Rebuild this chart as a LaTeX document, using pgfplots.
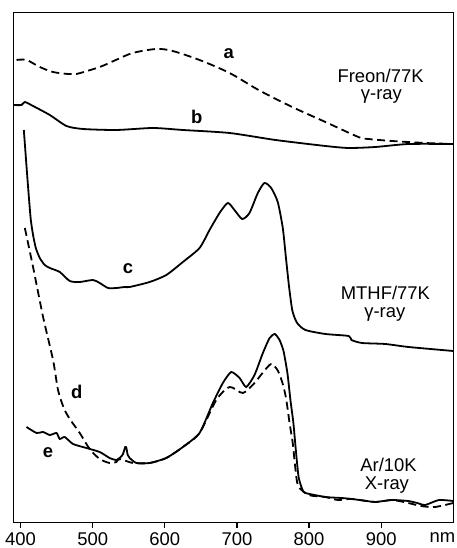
\documentclass[border=0pt]{standalone}
\usepackage{fontspec}
\setmainfont{Liberation Sans}
\usepackage{pgfplots}
\pgfplotsset{compat=1.18}
\usetikzlibrary{calc}
\newcommand{\lf}{\fontsize{18.5}{19}\selectfont}
\begin{document}
\begin{tikzpicture}
\begin{axis}[
  scale only axis, width=440bp, height=510bp,
  xmin=390, xmax=1000, ymin=0.3, ymax=510.3,
  xtick={400,500,600,700,800,900}, ytick=\empty,
  xtick pos=bottom, tick align=outside,
  major tick length=5bp,
  /pgf/number format/assume math mode=true,
  xticklabel style={font=\lf, inner sep=0pt, anchor=north, yshift=-4.5bp},
  axis line style={line width=1.5bp},
  every tick/.style={line width=1.3bp, black},
  clip=false,
]
% a (dashed)
\addplot[line width=1.8bp, dash pattern=on 8bp off 4.5bp, smooth, tension=0.5] coordinates {
(394.5,463) (408.3,463) (426.7,456) (445,451) (465.9,449) (477.5,449) (509.8,456) (530.6,462.5)
(555.5,470) (588.3,474) (610.9,472) (648.2,463) (689.8,450) (730,433) (776.6,416)
(822.7,401) (868.4,386) (882.2,384) (915,382) (961,380) (1000,379)};
% b
\addplot[line width=1.8bp, smooth, tension=0.4] coordinates {
(390,418) (401.4,418) (406,421) (417.4,417) (440.6,408) (463.7,397) (486.7,394) (532.9,393)
(583.6,395) (625.1,393) (689.8,390) (753.5,383) (822.7,377) (855,375) (892,376) (938,379) (1000,379)};
% c
\addplot[line width=1.8bp, smooth, tension=0.4] coordinates {
(404.6,393) (408.7,353) (411.9,323) (414.3,303) (417.4,288) (421.2,275) (426.7,265) (433.6,258)
(440.6,255) (454.4,251) (468.3,242) (482.1,241) (500.5,243) (509.8,240) (521.3,235) (532.9,235)
(544.4,236) (551.3,236) (579,241) (602.1,248) (625.1,261) (648.2,275) (662.1,293) (675.9,310)
(687.4,320) (696.6,313) (707.3,304) (717.4,310) (729,330) (738.2,340) (747.5,335) (756.6,321)
(763.6,295) (768,265) (772.5,235) (777,212) (783.5,200) (795,193) (822.7,189) (855,187) (858.7,183)
(873.5,180) (905.7,179) (938,176) (1000,172)};
% d (dashed)
\addplot[line width=1.8bp, dash pattern=on 8bp off 4.5bp, smooth, tension=0.45] coordinates {
(406,295) (417.4,256) (431.3,206) (445.1,163) (452,133) (460,115) (468.3,104) (482.1,90) (495.9,74)
(509.8,64) (523.6,60) (532.9,61) (537.6,64) (555.9,60) (579,60) (602.1,65) (625.1,76) (648.2,90)
(671.4,123) (689.8,136) (708.2,130) (724.4,140) (735.5,150) (747.5,159) (757,152) (764,138) (768.5,123)
(773,100) (777.4,80) (781,55) (785,37) (799.6,28) (822.7,26) (840,23) (859.6,24) (891.9,21) (915,23) (937.6,20)
(955,17) (974.5,16) (1000,20)};
% e
\addplot[line width=1.8bp, smooth, tension=0.35] coordinates {
(408.3,96) (422.2,90) (431.3,91) (440.6,88) (449.9,90) (454.4,84) (461.3,86) (472.8,79)
(491.4,75) (509.8,71) (523.6,65) (532.9,63) (538.9,66) (542.1,69) (545.2,76) (546.8,75)
(548.6,68) (551.3,65) (560.6,60) (579,60) (602.1,65) (625.1,76) (648.2,90) (666.7,120)
(680.5,140) (692.1,151) (703.7,145) (712.9,136) (724.4,148) (736,170) (745.3,185) (752.5,189)
(759.1,183) (764.6,172) (770,150) (774.2,123) (778.3,100) (781.8,72) (785.5,46) (790.5,34) (795,30)
(822.7,26) (845,25) (859.6,24) (880,22) (892,21) (915,23) (937.5,22) (950,20) (961,18) (980,23) (1000,22)};
% labels
\node[font=\lf\bfseries] at (axis cs:688.7,469) {a};
\node[font=\lf\bfseries] at (axis cs:644.5,406) {b};
\node[font=\lf\bfseries] at (axis cs:549,254) {c};
\node[font=\lf\bfseries] at (axis cs:478,131) {d};
\node[font=\lf\bfseries] at (axis cs:438.2,70) {e};
\node[font=\lf, anchor=base, inner sep=0pt] at (axis cs:899.2,440.3) {Freon/77K};
\node[font=\lf, anchor=base, inner sep=0pt] at (axis cs:900.3,423) {γ-ray};
\node[font=\lf, anchor=base, inner sep=0pt] at (axis cs:905.9,223) {MTHF/77K};
\node[font=\lf, anchor=base, inner sep=0pt] at (axis cs:905,205.7) {γ-ray};
\node[font=\lf, anchor=base, inner sep=0pt] at (axis cs:910.3,51.3) {Ar/10K};
\node[font=\lf, anchor=base, inner sep=0pt] at (axis cs:908,33) {X-ray};
\draw[line width=1.5bp] (rel axis cs:0,0) rectangle (rel axis cs:1,1);
\coordinate (bl) at (rel axis cs:0,0);
\coordinate (tr) at (rel axis cs:1,1);
\end{axis}
\node[font=\lf, anchor=north east, inner sep=0pt] at ($(bl-|tr)+(2bp,-9.5bp)$) {nm};
\pgfresetboundingbox
\path ($(bl)+(-13.3bp,-25.3bp)$) rectangle ($(tr)+(2.7bp,12.7bp)$);
\end{tikzpicture}
\end{document}
